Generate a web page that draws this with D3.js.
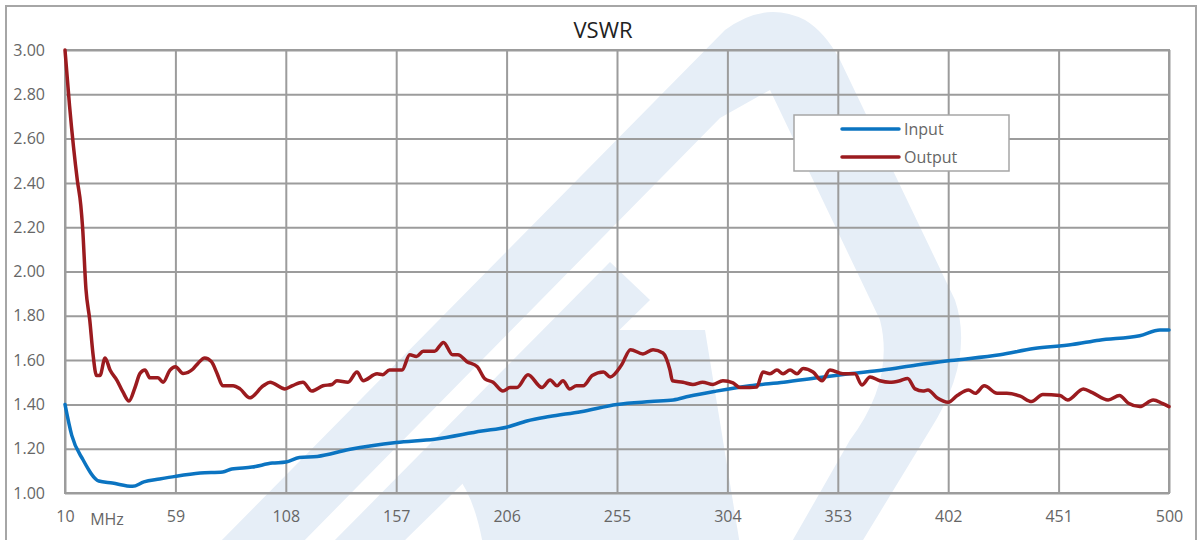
<!DOCTYPE html>
<html>
<head>
<meta charset="utf-8">
<script src="https://cdn.jsdelivr.net/npm/d3@7"></script>
<style>
  body { margin: 0; background: #fff; }
  svg { display: block; font-family: "Open Sans", sans-serif; }
</style>
</head>
<body>
<div id="chart"></div>
<script>
// frequency in MHz, VSWR
const inputFreq = [10, 13, 18, 25, 31, 40, 45, 52, 59, 70, 80, 84, 93, 102, 108, 114, 122, 136, 157, 174, 195, 206, 215, 225, 239, 255, 270, 280, 287, 299, 314, 329, 344, 358, 373, 388, 403, 425, 440, 457, 469, 487, 496, 500];
const inputVals = [1.40, 1.26, 1.15, 1.054, 1.045, 1.03, 1.05, 1.063, 1.075, 1.09, 1.095, 1.108, 1.117, 1.135, 1.14, 1.16, 1.165, 1.196, 1.228, 1.243, 1.28, 1.297, 1.325, 1.345, 1.367, 1.40, 1.413, 1.42, 1.437, 1.46, 1.484, 1.50, 1.52, 1.538, 1.555, 1.578, 1.598, 1.624, 1.652, 1.67, 1.69, 1.71, 1.736, 1.736];

const outputFreq = [10, 12, 15.5, 17, 17.8, 19.3, 21, 22.4, 24, 25.5, 27.8, 30, 33, 35.7, 38.4, 41, 43.3, 45.5, 47.7, 51.3, 53.5, 56.6, 59, 62.4, 66.8, 69, 72, 75, 77.5, 80, 84.6, 87.7, 92, 98, 101, 107.6, 111, 115.6, 119.6, 124.5, 128.5, 130.7, 135.6, 139.6, 142.3, 148.5, 151, 154, 159.6, 163, 166, 169, 174, 178, 182, 184.4, 188.4, 193, 196.4, 200, 204.4, 207.5, 210.6, 215.5, 221.7, 225.3, 228.4, 231, 234, 237, 240, 244, 249, 252, 257, 261, 266.5, 271, 275.4, 278.5, 279.6, 284.3, 288.7, 293, 297.6, 302, 306.5, 309.6, 314, 317, 319.8, 322.9, 326, 328.7, 331.8, 334.9, 337.6, 342, 346, 349.5, 355.3, 360.6, 363.7, 367.3, 371.7, 376, 380.6, 384, 387.3, 390.8, 393, 397, 402, 406, 411, 414, 418, 423.7, 428, 434, 439, 444, 451.6, 455, 462, 466, 473, 478, 482, 487, 493, 497, 500];
const outputVals = [3.00, 2.75, 2.41, 2.30, 2.20, 1.92, 1.78, 1.63, 1.53, 1.53, 1.61, 1.555, 1.51, 1.456, 1.415, 1.474, 1.54, 1.555, 1.52, 1.52, 1.50, 1.555, 1.57, 1.54, 1.56, 1.585, 1.61, 1.593, 1.54, 1.484, 1.484, 1.47, 1.43, 1.484, 1.50, 1.47, 1.485, 1.50, 1.46, 1.484, 1.49, 1.507, 1.50, 1.546, 1.507, 1.538, 1.534, 1.555, 1.555, 1.624, 1.616, 1.64, 1.64, 1.68, 1.624, 1.624, 1.593, 1.57, 1.515, 1.50, 1.46, 1.476, 1.476, 1.534, 1.476, 1.51, 1.484, 1.507, 1.47, 1.484, 1.484, 1.53, 1.546, 1.524, 1.578, 1.647, 1.628, 1.647, 1.632, 1.555, 1.507, 1.50, 1.49, 1.50, 1.49, 1.507, 1.497, 1.476, 1.476, 1.478, 1.546, 1.538, 1.555, 1.538, 1.555, 1.538, 1.562, 1.546, 1.507, 1.555, 1.538, 1.538, 1.488, 1.524, 1.507, 1.50, 1.507, 1.517, 1.47, 1.46, 1.465, 1.43, 1.41, 1.44, 1.465, 1.45, 1.484, 1.45, 1.45, 1.437, 1.413, 1.445, 1.44, 1.42, 1.47, 1.453, 1.42, 1.44, 1.405, 1.39, 1.42, 1.405, 1.39];

const xTicks = [10, 59, 108, 157, 206, 255, 304, 353, 402, 451, 500];
const yTicks = [1.00, 1.20, 1.40, 1.60, 1.80, 2.00, 2.20, 2.40, 2.60, 2.80, 3.00];
const seriesNames = ["Input", "Output"];
const seriesColors = ["#0b74c1", "#9b1b1f"];

let width = 1200, height = 540;
let svg = d3.select("#chart").append("svg").attr("width", width).attr("height", height);

// faint logo watermark behind the chart
let wm = svg.append("g").attr("fill", "#e6eef7").attr("stroke", "none");
wm.append("path").attr("fill-rule", "evenodd").attr("d",
  "M217,545 L725,30 Q765,0 805,20 Q825,32 840,60 L955,300 Q975,360 930,430 L860,545 Z " +
  "M300,545 L720,118 L770,90 L880,320 Q895,380 850,440 L790,545 Z");
wm.append("path").attr("d", "M330,545 L610,262 L650,300 L400,545 Z");
wm.append("path").attr("d", "M483,545 Q470,470 430,455 L560,330 L705,330 L740,545 Z");

// outer frame
svg.append("rect").attr("x", 6).attr("y", 6).attr("width", 1190).attr("height", 560)
  .attr("fill", "none").attr("stroke", "#a6a6a6").attr("stroke-width", 2);

let x = d3.scaleLinear().domain([10, 500]).range([65, 1169]);
let y = d3.scaleLinear().domain([1, 3]).range([493, 50]);

// gridlines
let grid = svg.append("g").attr("class", "grid");
grid.append("g").attr("transform", "translate(0,493)")
  .call(d3.axisBottom(x).tickValues(xTicks).tickSize(-443).tickFormat(""))
  .call(g => g.select(".domain").remove());
grid.append("g").attr("transform", "translate(65,0)")
  .call(d3.axisLeft(y).tickValues(yTicks).tickSize(-1104).tickFormat(""))
  .call(g => g.select(".domain").remove());
grid.selectAll("line").attr("stroke", "#9c9c9c").attr("stroke-width", 2);
svg.append("rect").attr("x", 65).attr("y", 50).attr("width", 1104).attr("height", 443)
  .attr("fill", "none").attr("stroke", "#9c9c9c").attr("stroke-width", 2);

// tick labels
let xAxis = svg.append("g").attr("transform", "translate(0,493)")
  .call(d3.axisBottom(x).tickValues(xTicks).tickSize(0).tickPadding(18));
let yAxis = svg.append("g").attr("transform", "translate(65,0)")
  .call(d3.axisLeft(y).tickValues(yTicks).tickSize(0).tickPadding(20).tickFormat(d3.format(".2f")));
xAxis.select(".domain").remove();
yAxis.select(".domain").remove();
svg.selectAll(".tick text").attr("fill", "#666").style("font-size", "16px").style("font-family", "'Open Sans', sans-serif");

svg.append("text").attr("x", 107).attr("y", 525).attr("text-anchor", "middle")
  .attr("fill", "#666").style("font-size", "16px").text("MHz");

// title
svg.append("text").attr("x", 603).attr("y", 38).attr("text-anchor", "middle")
  .attr("fill", "#222").style("font-size", "22px").text("VSWR");

// lines
let line = d3.line().x(d => x(d[0])).y(d => y(d[1])).curve(d3.curveMonotoneX);
let inputData = inputFreq.map((f, i) => [f, inputVals[i]]);
let outputData = outputFreq.map((f, i) => [f, outputVals[i]]);
[inputData, outputData].forEach((data, i) => {
  svg.append("path").datum(data).attr("d", line)
    .attr("fill", "none").attr("stroke", seriesColors[i]).attr("stroke-width", 3.5)
    .attr("stroke-linejoin", "round").attr("stroke-linecap", "round");
});

// legend
let legend = svg.append("g").attr("transform", "translate(794,115)");
legend.append("rect").attr("width", 215).attr("height", 56)
  .attr("fill", "#fff").attr("stroke", "#a6a6a6").attr("stroke-width", 1.5);
seriesNames.forEach((name, i) => {
  let row = legend.append("g").attr("transform", `translate(0,${14 + i * 28})`);
  row.append("line").attr("x1", 48).attr("x2", 105).attr("y1", 0).attr("y2", 0)
    .attr("stroke", seriesColors[i]).attr("stroke-width", 3.5).attr("stroke-linecap", "round");
  row.append("text").attr("x", 110).attr("y", 6).attr("fill", "#666")
    .style("font-size", "16px").text(name);
});
</script>
</body>
</html>
